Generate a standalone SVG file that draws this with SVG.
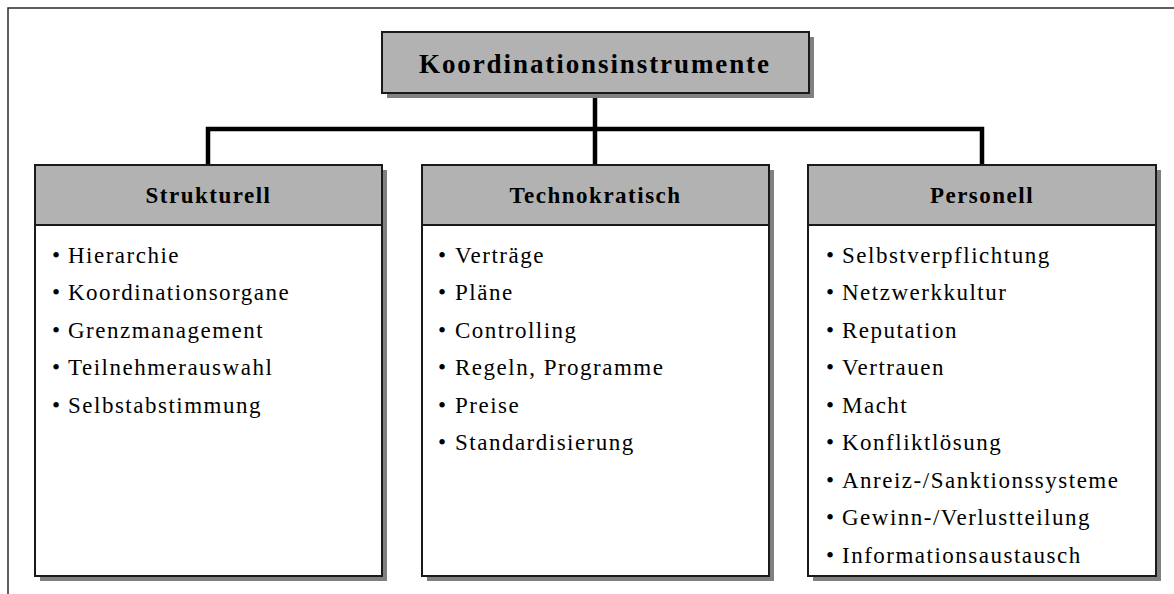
<svg xmlns="http://www.w3.org/2000/svg" width="1174" height="594" viewBox="0 0 1174 594">
  <style>
    .frame { stroke: #2a2a2a; stroke-width: 1.5; fill: none; }
    .shadow { fill: #808080; }
    .head { fill: #b2b2b2; stroke: #1a1a1a; stroke-width: 2; }
    .body { fill: #ffffff; stroke: #1a1a1a; stroke-width: 2; }
    .conn { stroke: #000000; stroke-width: 4.5; fill: none; stroke-linejoin: miter; stroke-linecap: square; }
    .title { font-family: "Liberation Serif", "Times New Roman", serif; font-weight: bold; font-size: 27px; fill: #000; text-anchor: middle; }
    .hdr { font-family: "Liberation Serif", "Times New Roman", serif; font-weight: bold; font-size: 23px; letter-spacing: 1.5px; fill: #000; text-anchor: middle; }
    .item { font-family: "Liberation Serif", "Times New Roman", serif; font-size: 23px; letter-spacing: 1.5px; fill: #000; }
  </style>

  <!-- page frame -->
  <path class="frame" d="M8,594 V8 H1174"/>

  <!-- connectors -->
  <g id="connectors">
    <path class="conn" d="M595,93 V165"/>
    <path class="conn" d="M208,165 V129 H982 V165"/>
  </g>

  <!-- root node -->
  <g id="node-root">
    <rect class="shadow" x="387" y="37" width="427" height="61"/>
    <rect class="head" x="382" y="32" width="427" height="61"/>
    <text class="title" x="594" y="73" textLength="350" lengthAdjust="spacing">Koordinationsinstrumente</text>
  </g>

  <!-- Strukturell -->
  <g id="node-strukturell">
    <rect class="shadow" x="40" y="170" width="347" height="411"/>
    <rect class="body" x="35" y="165" width="347" height="411"/>
    <rect class="head" x="35" y="165" width="347" height="60"/>
    <text class="hdr" x="208.5" y="203">Strukturell</text>
    <text class="item"><tspan x="52" y="262.5">•</tspan><tspan x="68">Hierarchie</tspan></text>
    <text class="item"><tspan x="52" y="300">•</tspan><tspan x="68">Koordinationsorgane</tspan></text>
    <text class="item"><tspan x="52" y="337.5">•</tspan><tspan x="68">Grenzmanagement</tspan></text>
    <text class="item"><tspan x="52" y="375">•</tspan><tspan x="68">Teilnehmerauswahl</tspan></text>
    <text class="item"><tspan x="52" y="412.5">•</tspan><tspan x="68">Selbstabstimmung</tspan></text>
  </g>

  <!-- Technokratisch -->
  <g id="node-technokratisch">
    <rect class="shadow" x="427" y="170" width="347" height="411"/>
    <rect class="body" x="422" y="165" width="347" height="411"/>
    <rect class="head" x="422" y="165" width="347" height="60"/>
    <text class="hdr" x="595.5" y="203">Technokratisch</text>
    <text class="item"><tspan x="438" y="262.5">•</tspan><tspan x="455">Verträge</tspan></text>
    <text class="item"><tspan x="438" y="300">•</tspan><tspan x="455">Pläne</tspan></text>
    <text class="item"><tspan x="438" y="337.5">•</tspan><tspan x="455">Controlling</tspan></text>
    <text class="item"><tspan x="438" y="375">•</tspan><tspan x="455">Regeln, Programme</tspan></text>
    <text class="item"><tspan x="438" y="412.5">•</tspan><tspan x="455">Preise</tspan></text>
    <text class="item"><tspan x="438" y="450">•</tspan><tspan x="455">Standardisierung</tspan></text>
  </g>

  <!-- Personell -->
  <g id="node-personell">
    <rect class="shadow" x="813" y="170" width="348" height="411"/>
    <rect class="body" x="808" y="165" width="348" height="411"/>
    <rect class="head" x="808" y="165" width="348" height="60"/>
    <text class="hdr" x="982" y="203">Personell</text>
    <text class="item"><tspan x="826" y="262.5">•</tspan><tspan x="842">Selbstverpflichtung</tspan></text>
    <text class="item"><tspan x="826" y="300">•</tspan><tspan x="842">Netzwerkkultur</tspan></text>
    <text class="item"><tspan x="826" y="337.5">•</tspan><tspan x="842">Reputation</tspan></text>
    <text class="item"><tspan x="826" y="375">•</tspan><tspan x="842">Vertrauen</tspan></text>
    <text class="item"><tspan x="826" y="412.5">•</tspan><tspan x="842">Macht</tspan></text>
    <text class="item"><tspan x="826" y="450">•</tspan><tspan x="842">Konfliktlösung</tspan></text>
    <text class="item"><tspan x="826" y="487.5">•</tspan><tspan x="842">Anreiz-/Sanktionssysteme</tspan></text>
    <text class="item"><tspan x="826" y="525">•</tspan><tspan x="842">Gewinn-/Verlustteilung</tspan></text>
    <text class="item"><tspan x="826" y="562.5">•</tspan><tspan x="842">Informationsaustausch</tspan></text>
  </g>
</svg>
